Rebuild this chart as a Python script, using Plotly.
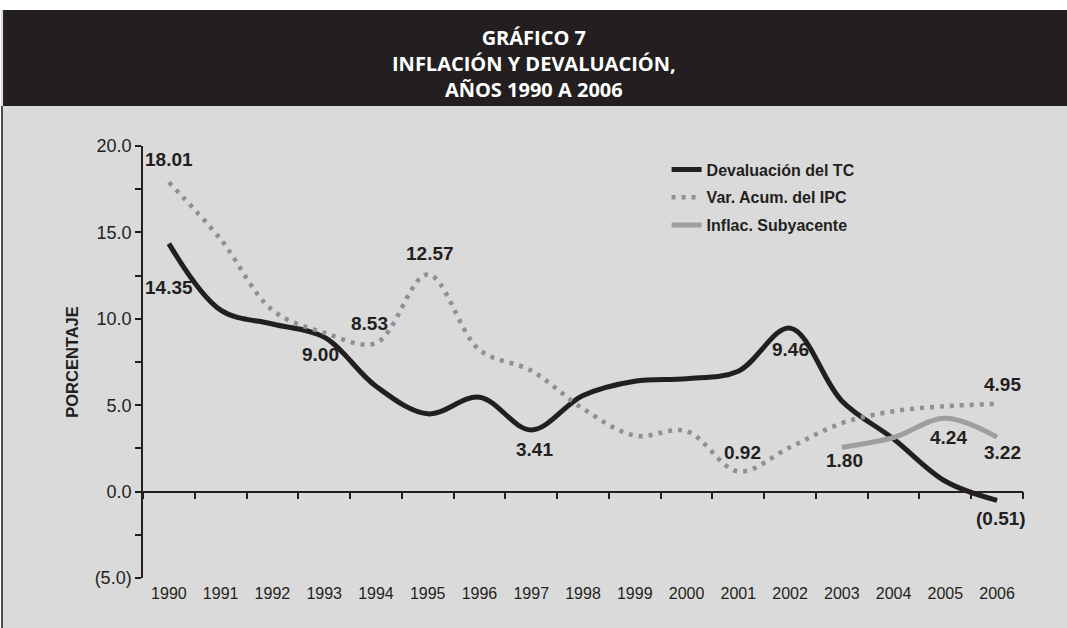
import plotly.graph_objects as go

# Datos (porcentajes)
anios = ['1990', '1991', '1992', '1993', '1994', '1995', '1996', '1997', '1998',
         '1999', '2000', '2001', '2002', '2003', '2004', '2005', '2006']
devaluacion = [14.35, 10.5, 9.7, 8.94, 6.1, 4.5, 5.46, 3.57, 5.56,
               6.39, 6.53, 6.97, 9.46, 5.25, 3.05, 0.6, -0.51]
ipc = [17.9, 14.6, 10.5, 9.2, 8.6, 12.57, 8.2, 7.0, 4.8,
       3.24, 3.5, 1.17, 2.57, 3.96, 4.65, 4.94, 5.08]
anios_sub = ['2003', '2004', '2005', '2006']
subyacente = [2.57, 3.13, 4.25, 3.15]

# Etiquetas de datos: (año, texto, y, desplazamiento x)
etiquetas = [
    ('1990', '18.01', 19.2, 0),
    ('1990', '14.35', 11.8, 0),
    ('1993', '9.00', 7.94, -4),
    ('1994', '8.53', 9.7, -6),
    ('1995', '12.57', 13.8, 2),
    ('1997', '3.41', 2.43, 3),
    ('2001', '0.92', 2.26, 4),
    ('2002', '9.46', 8.2, 0),
    ('2003', '1.80', 1.8, 3),
    ('2005', '4.24', 3.13, 3),
    ('2006', '3.22', 2.26, 5),
    ('2006', '4.95', 6.2, 5),
    ('2006', '(0.51)', -1.56, 4),
]

_DARK = '#231f20'
_BG = '#dadada'
_FONT = 'Liberation Sans, Arial, sans-serif'

fig = go.Figure()

fig.add_trace(go.Scatter(
    x=anios, y=devaluacion, name='Devaluación del TC', legendgroup='a',
    mode='lines', line=dict(color=_DARK, width=5, shape='spline', smoothing=1.0),
))
fig.add_trace(go.Scatter(
    x=anios, y=ipc, name='Var. Acum. del IPC', legendgroup='b',
    mode='lines', line=dict(color='#8f9093', width=4.5, dash='4px,6px',
                            shape='spline', smoothing=1.0),
))
fig.add_trace(go.Scatter(
    x=anios_sub, y=subyacente, name='Inflac. Subyacente', legendgroup='c',
    mode='lines', line=dict(color='#9d9ea0', width=5, shape='spline', smoothing=1.0),
))
# traza vacía para que se dibuje el eje x2 (línea del cero con marcas)
fig.add_trace(go.Scatter(x=[], y=[], xaxis='x2', showlegend=False, hoverinfo='skip'))

# en eje de categorías la anotación se ubica por índice de categoría
for anio, txt, yv, dx in etiquetas:
    fig.add_annotation(x=anios.index(anio), y=yv, text=txt, showarrow=False, xshift=dx,
                       font=dict(family=_FONT, size=19, color=_DARK, weight='bold'))

# Título en franja oscura
fig.add_annotation(
    xref='paper', yref='paper', x=0.444, y=1.192, yanchor='middle',
    text='GRÁFICO 7<br>INFLACIÓN Y DEVALUACIÓN,<br>AÑOS 1990 A 2006',
    showarrow=False, align='center',
    font=dict(family='Open Sans, sans-serif', size=20, color='white', weight='bold'),
)

shapes = [
    dict(type='rect', xref='paper', yref='paper', x0=-0.17, x1=1.06, y0=1.315, y1=1.34,
         fillcolor='white', line_width=0, layer='below'),
    dict(type='rect', xref='paper', yref='paper', x0=-0.159, x1=1.06, y0=1.0926, y1=1.315,
         fillcolor=_DARK, line_width=0, layer='below'),
    dict(type='rect', xref='paper', yref='paper', x0=-0.17, x1=-0.1614, y0=-0.12, y1=1.315,
         fillcolor='white', line_width=0, layer='below'),
    dict(type='line', xref='paper', yref='paper', x0=-0.1602, x1=-0.1602, y0=-0.12, y1=1.0926,
         line=dict(color=_DARK, width=1.5), layer='below'),
]

fig.update_layout(
    width=1067, height=628,
    margin=dict(l=143, r=44, t=146, b=50),
    paper_bgcolor=_BG, plot_bgcolor='rgba(0,0,0,0)',
    font=dict(family=_FONT, color=_DARK),
    shapes=shapes,
    showlegend=True,
    legend=dict(x=0.595, y=0.985, xanchor='left', yanchor='top',
                bgcolor='rgba(0,0,0,0)', tracegroupgap=4,
                font=dict(family=_FONT, size=16, color=_DARK, weight='bold')),
    xaxis=dict(type='category', categoryorder='array', categoryarray=anios,
               range=[-0.5, 16.5], showline=False, ticks='', showgrid=False,
               zeroline=False, tickfont=dict(size=16, color=_DARK),
               ticklabelstandoff=4),
    xaxis2=dict(overlaying='x', anchor='free', position=0.2, type='linear',
                range=[-0.5, 16.5], tickmode='linear', tick0=0.5, dtick=1,
                showline=True, linecolor=_DARK, linewidth=1.5, ticks='outside',
                ticklen=7, tickcolor=_DARK, tickwidth=1.5, showticklabels=False,
                showgrid=False, zeroline=False),
    yaxis=dict(range=[-5, 20], tickmode='array',
               tickvals=[-5, -2.5, 0, 2.5, 5, 7.5, 10, 12.5, 15, 17.5, 20],
               ticktext=['(5.0)', '', '0.0', '', '5.0', '', '10.0', '', '15.0', '', '20.0'],
               ticks='outside', ticklen=6, tickwidth=1.5, tickcolor=_DARK,
               showline=True, linecolor=_DARK, linewidth=1.5,
               showgrid=False, zeroline=False,
               tickfont=dict(size=18, color=_DARK),
               title=dict(text='PORCENTAJE', standoff=12,
                          font=dict(size=16.5, color=_DARK, weight='bold'))),
)

# sin margen del body para que la figura quede en (0,0)
fig.write_html('out.html', config={'displayModeBar': False},
               post_script="document.body.style.margin='0';")
